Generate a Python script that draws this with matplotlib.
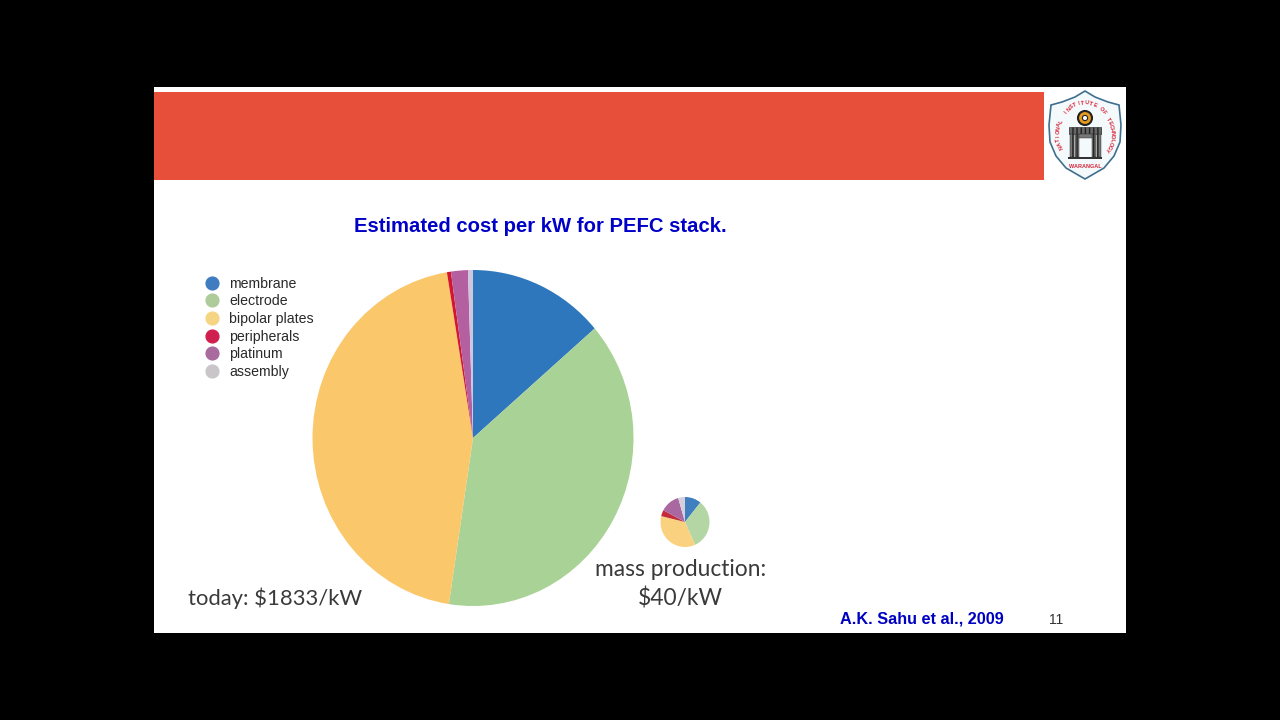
import numpy as np
from matplotlib import pyplot as plt
from matplotlib.lines import Line2D
from matplotlib.patches import Polygon, Rectangle, Circle

# pie data, % of the cost
parts = ['membrane', 'electrode', 'bipolar plates', 'peripherals', 'platinum', 'assembly']
today = [13.7, 38.7, 45.0, 0.4, 1.7, 0.5]
mass = [10.8, 32.5, 35.5, 4.0, 12.7, 4.5]
pie_colors = ['#2f77bd', '#a9d296', '#fbc76b', '#d2172f', '#b45fa0', '#cdc6dc']
mass_colors = ['#3f7fc0', '#b4d6a4', '#fad27f', '#c42a3c', '#a9689f', '#d5cfdc']
key_colors = ['#3f7cc0', '#aecb9a', '#f5d584', '#d0204f', '#a96a9d', '#c9c5c8']

title = 'Estimated cost per kW for PEFC stack.'
source = 'A.K. Sahu et al., 2009'
page = '11'

W, H = 1280, 720
fig = plt.figure(figsize=(12.8, 7.2), dpi=100, facecolor='black')

# whole figure in pixels, y going down
bg = fig.add_axes([0, 0, 1, 1])
bg.set_xlim(0, W)
bg.set_ylim(H, 0)
bg.axis('off')
bg.add_patch(Rectangle((154, 87), 972, 546, color='white', lw=0))
bg.add_patch(Rectangle((154, 92), 890, 88, color='#e84f3b', lw=0))

bg.text(540, 226, title, color='#0000c8', fontsize=14.6, fontweight='bold',
        family='Liberation Sans', ha='center', va='center')
bg.text(921.5, 619, source, color='#0000c0', fontsize=11.7, fontweight='bold',
        family='Liberation Sans', ha='center', va='center')
bg.text(1056, 620.5, page, color='#333333', fontsize=10,
        family='Liberation Sans', ha='center', va='center')

bg.text(275.5, 598, 'today: $1833/kW', color='#3a3a3a', fontsize=15.8, family='Lato',
        ha='center', va='center')
bg.text(680.5, 569, 'mass production:', color='#3a3a3a', fontsize=16.4, family='Lato',
        ha='center', va='center')
bg.text(680.5, 598.5, '$40/kW', color='#3a3a3a', fontsize=16.4, family='Lato',
        ha='center', va='center')


def pie_axes(cx, cy, rx, ry, vals, cols):
    ax = fig.add_axes([(cx - rx) / W, 1 - (cy + ry) / H, 2 * rx / W, 2 * ry / H])
    ax.pie(vals, colors=cols, startangle=90, counterclock=False, radius=1)
    ax.set_aspect('auto')
    ax.set_xlim(-1, 1)
    ax.set_ylim(-1, 1)
    return ax


pie_axes(473, 438, 160.5, 168, today, pie_colors)
pie_axes(685, 522, 24.5, 25, mass, mass_colors)

# legend of the pie
handles = [Line2D([], [], ls='', marker='o', ms=9.2, color=c, label=p)
           for c, p in zip(key_colors, parts)]
bg.legend(handles=handles, loc='upper left', bbox_to_anchor=(198 / W, 1 - 276.5 / H),
          bbox_transform=fig.transFigure, frameon=False,
          prop={'family': 'Liberation Sans', 'size': 10.2}, labelspacing=0.26,
          handletextpad=0.2, borderpad=0, borderaxespad=0, labelcolor='#2a2a2a')

# institute logo
shield_x = [1085, 1095, 1108, 1119, 1121, 1120, 1114, 1104, 1085, 1066, 1056, 1050, 1049, 1051, 1062, 1075]
shield_y = [91, 97, 102, 105, 125, 142, 156, 168, 179, 168, 156, 142, 125, 105, 102, 97]
bg.add_patch(Polygon(np.column_stack((shield_x, shield_y)), closed=True, fc='#f4fafc',
                     ec='#3f6f8f', lw=1.2))


def arc_text(txt, cx, cy, r, a0, a1):
    for ch, a in zip(txt, np.linspace(a0, a1, len(txt))):
        t = np.radians(a)
        bg.text(cx + r * np.sin(t), cy - r * np.cos(t), ch, color='#d8263a', fontsize=4,
                fontweight='bold', family='Liberation Sans', rotation=-a,
                rotation_mode='anchor', ha='center', va='center')


arc_text('INSTITUTE OF', 1085, 127, 24, -52, 52)
arc_text('TECHNOLOGY', 1085, 134, 27, 58, 125)
arc_text('NATIONAL', 1085, 134, 27, -118, -62)
bg.text(1085, 167, 'WARANGAL', color='#d8263a', fontsize=4, fontweight='bold',
        family='Liberation Sans', ha='center', va='center')

bg.add_patch(Circle((1085, 118), 7, fc='#e59a20', ec='#222222', lw=1.5))
bg.add_patch(Circle((1085, 118), 2.6, fc='white', ec='#222222', lw=0.8))
bg.add_patch(Rectangle((1069, 127), 32, 7, fc='#666666', ec='#222222', lw=0.4, hatch='||||'))
for xb in (1070, 1075, 1092, 1097):
    bg.add_patch(Rectangle((xb, 134), 4, 23, fc='#777777', ec='#222222', lw=0.3, hatch='||||'))
bg.add_patch(Rectangle((1079, 134), 13, 4, fc='#777777', ec='#222222', lw=0.3))
bg.add_patch(Rectangle((1068, 157), 34, 1.5, fc='#333333', lw=0))

fig.savefig('out.png', dpi=100, facecolor='black')
